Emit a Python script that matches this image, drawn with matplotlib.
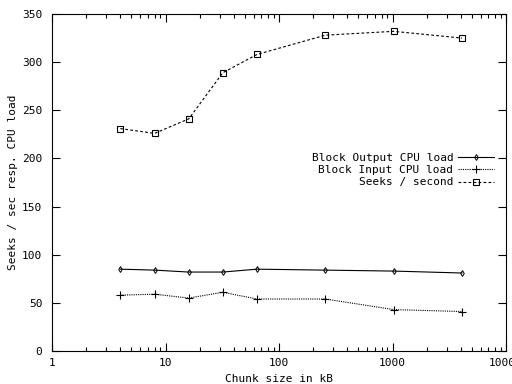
import numpy as np
import matplotlib
matplotlib.use("Agg")
import matplotlib.pyplot as plt
from matplotlib.ticker import FixedLocator, FuncFormatter, LogLocator, NullFormatter

# chunk sizes in kB
chunk_kb = [4, 8, 16, 32, 64, 256, 1024, 4096]

# series
output_cpu = [85, 84, 82, 82, 85, 84, 83, 81]
input_cpu = [58, 59, 55, 61, 54, 54, 43, 41]
seeks = [231, 226, 241, 289, 308, 328, 332, 325]

y_ticks = [0, 50, 100, 150, 200, 250, 300, 350]
x_ticks = [1, 10, 100, 1000, 10000]

plt.rcParams["font.family"] = "DejaVu Sans Mono"
plt.rcParams["font.size"] = 8

fig = plt.figure(figsize=(5.12, 3.84), dpi=100)
ax = fig.add_axes([52 / 512, 33 / 384, 454 / 512, 337 / 384])

lw = 0.8
ax.plot(chunk_kb, output_cpu, color="black", lw=lw, ls="-",
        marker="d", ms=3, mfc="none", mew=0.7, label="Block Output CPU load")
ax.plot(chunk_kb, input_cpu, color="black", lw=lw, ls=(0, (1, 1)),
        marker="+", ms=6, mew=0.8, label="Block Input CPU load")
ax.plot(chunk_kb, seeks, color="black", lw=lw, ls=(0, (2.5, 2)),
        marker="s", ms=4, mfc="none", mew=0.8, label="Seeks / second")

ax.set_xscale("log")
ax.set_xlim(1, 10000)
ax.set_ylim(0, 350)
ax.xaxis.set_major_locator(FixedLocator(x_ticks))
ax.xaxis.set_major_formatter(FuncFormatter(lambda v, p: "%d" % v))
ax.xaxis.set_minor_locator(LogLocator(base=10, subs=np.arange(2, 10)))
ax.xaxis.set_minor_formatter(NullFormatter())
ax.set_yticks(y_ticks)

ax.tick_params(which="both", direction="in", top=True, right=True, width=0.8)
ax.tick_params(which="major", length=6)
ax.tick_params(which="minor", length=3)
ax.tick_params(axis="y", pad=7)
ax.tick_params(axis="x", pad=5)
for s in ax.spines.values():
    s.set_linewidth(0.8)

ax.set_xlabel("Chunk size in kB", labelpad=4)
ax.set_ylabel("Seeks / sec resp. CPU load", labelpad=3)

ax.legend(loc="upper right", bbox_to_anchor=(494 / 512, 1 - 153 / 384),
          bbox_transform=fig.transFigure, frameon=False, markerfirst=False,
          handlelength=3.2, handletextpad=0.45, labelspacing=0.2,
          borderpad=0, borderaxespad=0)

fig.savefig("out.png", dpi=100)
